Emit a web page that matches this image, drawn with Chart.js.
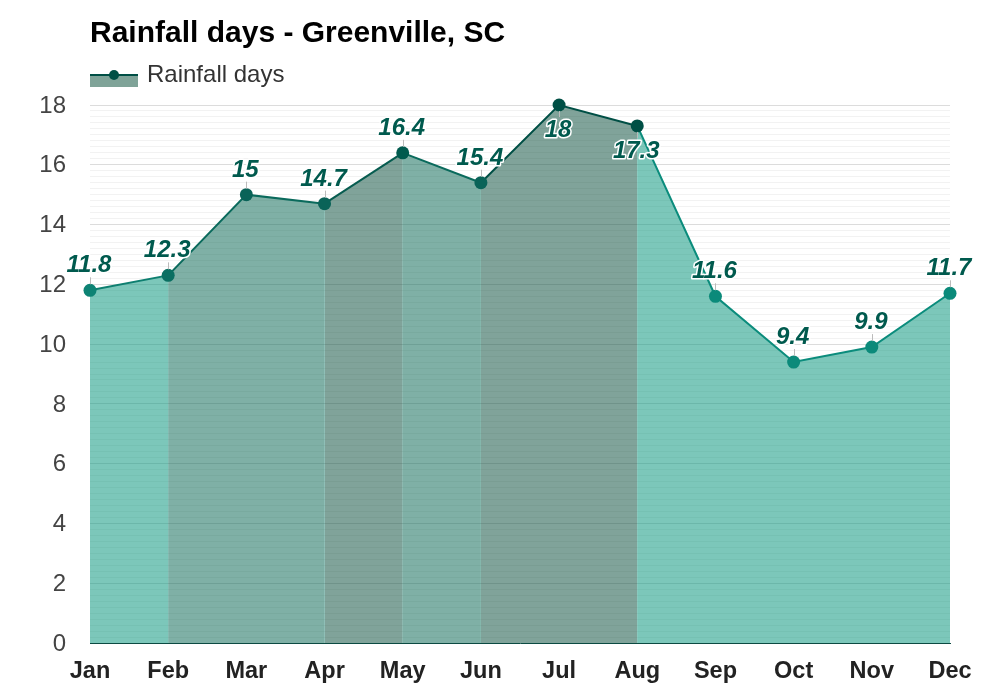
<!DOCTYPE html>
<html>
<head>
<meta charset="utf-8">
<title>Rainfall days - Greenville, SC</title>
<script src="https://cdn.jsdelivr.net/npm/chart.js@4/dist/chart.umd.min.js"></script>
<style>
  html, body { margin: 0; padding: 0; background: #fff; }
  canvas { display: block; }
</style>
</head>
<body>
<canvas id="chart" width="1000" height="700"></canvas>
<script>
const chartTitle = 'Rainfall days - Greenville, SC';
const seriesName = 'Rainfall days';
const months = ['Jan', 'Feb', 'Mar', 'Apr', 'May', 'Jun', 'Jul', 'Aug', 'Sep', 'Oct', 'Nov', 'Dec'];
const rainfallDays = [11.8, 12.3, 15, 14.7, 16.4, 15.4, 18, 17.3, 11.6, 9.4, 9.9, 11.7];
const valueLabels = ['11.8', '12.3', '15', '14.7', '16.4', '15.4', '18', '17.3', '11.6', '9.4', '9.9', '11.7'];

// one colour per segment, the segment starting at that month
// these sit on top of the base fill, which hides the seams between segments
const baseFill = 'rgba(17,153,130,0.4)';
const light = 'rgba(16,154,129,0.25)';
const mid = 'rgba(28,62,49,0.25)';
const dark = 'rgba(32,10,0,0.25)';
const fillColors = [light, mid, mid, dark, mid, dark, dark, light, light, light, light];
const lineColors = ['#0e7f70', '#0a6a5c', '#0a6a5c', '#075c50', '#0a6a5c', '#004f45', '#004f45', '#0b8c7c', '#0b8c7c', '#0b8c7c', '#0b8c7c'];
const pointColors = ['#0e8374', '#0a6f62', '#0a6358', '#0a6358', '#005a4e', '#0a6358', '#004f45', '#004f45', '#0b8a7a', '#0b8a7a', '#0b8a7a', '#0b8a7a'];
const labelsBelow = ['Jul', 'Aug'];

const sansFont = '"Liberation Sans", Arial, sans-serif';

const isMajor = (v) => Math.abs(v / 2 - Math.round(v / 2)) < 1e-6;

// title, legend, leader lines and value labels
const annotations = {
  id: 'annotations',
  afterDraw(chart) {
    const { ctx, chartArea } = chart;
    const points = chart.getDatasetMeta(0).data;
    ctx.save();

    ctx.textAlign = 'left';
    ctx.textBaseline = 'alphabetic';
    ctx.fillStyle = '#000';
    ctx.font = 'bold 30px ' + sansFont;
    ctx.fillText(chartTitle, chartArea.left, 42);

    ctx.fillStyle = '#7fa398';
    ctx.fillRect(chartArea.left, 75, 48, 12);
    ctx.fillStyle = '#004f45';
    ctx.fillRect(chartArea.left, 74, 48, 2);
    ctx.beginPath();
    ctx.arc(chartArea.left + 24, 75, 5, 0, Math.PI * 2);
    ctx.fill();
    ctx.fillStyle = '#333';
    ctx.font = '24px ' + sansFont;
    ctx.fillText(seriesName, chartArea.left + 57, 82);

    ctx.textAlign = 'center';
    ctx.font = 'italic bold 24px ' + sansFont;
    ctx.lineJoin = 'round';
    points.forEach((pt, i) => {
      const below = labelsBelow.includes(months[i]);
      ctx.strokeStyle = '#bbb';
      ctx.lineWidth = 1;
      ctx.beginPath();
      ctx.moveTo(Math.round(pt.x) + 0.5, pt.y + (below ? 6 : -6));
      ctx.lineTo(Math.round(pt.x) + 0.5, pt.y + (below ? 12 : -13));
      ctx.stroke();
      const y = pt.y + (below ? 32 : -18);
      ctx.strokeStyle = '#fff';
      ctx.lineWidth = 3;
      ctx.strokeText(valueLabels[i], pt.x - 1, y);
      ctx.fillStyle = '#005a4e';
      ctx.fillText(valueLabels[i], pt.x - 1, y);
    });
    ctx.restore();
  },
};

new Chart(document.getElementById('chart'), {
  type: 'line',
  data: {
    labels: months,
    datasets: [{
      label: seriesName,
      data: rainfallDays,
      fill: 'origin',
      tension: 0,
      clip: false,
      borderWidth: 2,
      pointRadius: 6.5,
      pointBorderWidth: 0,
      pointBackgroundColor: pointColors,
      segment: {
        borderColor: (c) => lineColors[c.p0DataIndex],
        backgroundColor: (c) => fillColors[c.p0DataIndex],
      },
    }, {
      label: 'base',
      data: rainfallDays,
      fill: 'origin',
      tension: 0,
      borderWidth: 0,
      pointRadius: 0,
      backgroundColor: baseFill,
    }],
  },
  options: {
    responsive: false,
    animation: false,
    events: [],
    layout: { padding: { top: 105, right: 50, left: 0, bottom: 0 } },
    plugins: {
      legend: { display: false },
      title: { display: false },
      tooltip: { enabled: false },
    },
    scales: {
      x: {
        offset: false,
        afterFit: (s) => { s.height = 57; },
        grid: { display: false },
        border: { color: '#0b4a42', width: 1 },
        ticks: {
          maxRotation: 0,
          autoSkip: false,
          padding: 6,
          color: '#222',
          font: { family: sansFont, size: 23.5, weight: 'bold' },
        },
      },
      y: {
        min: 0,
        max: 18,
        afterFit: (s) => { s.width = 90; },
        border: { display: false },
        grid: {
          drawTicks: false,
          color: (c) => (isMajor(c.tick.value) ? '#dcdcdc' : '#f2f2f2'),
        },
        ticks: {
          stepSize: 0.2,
          autoSkip: false,
          padding: 24,
          labelOffset: 1,
          color: '#444',
          font: { family: sansFont, size: 24 },
          callback: (v) => (isMajor(v) ? String(Math.round(v)) : ''),
        },
      },
    },
  },
  plugins: [annotations],
});
</script>
</body>
</html>
